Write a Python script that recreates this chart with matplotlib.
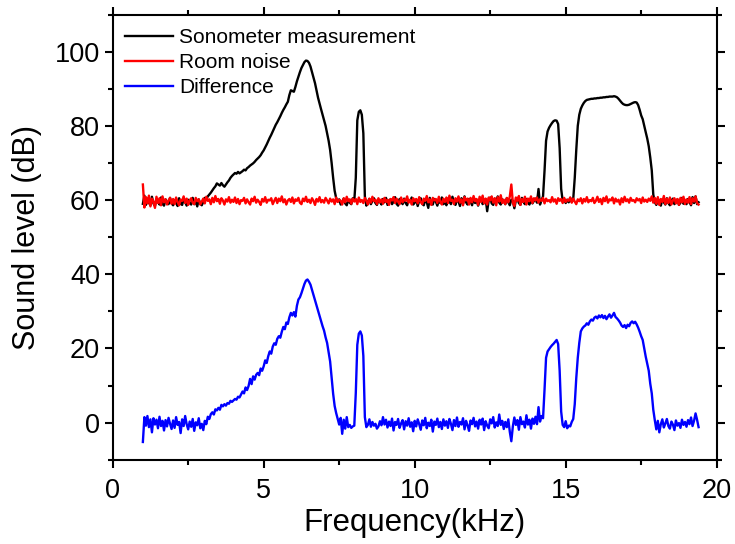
import numpy as np
import matplotlib
matplotlib.use("Agg")
import matplotlib.pyplot as plt
from matplotlib.ticker import MultipleLocator

plt.rcParams['font.family'] = ['Liberation Sans', 'DejaVu Sans']

# frequency grid (kHz), 0.05 kHz steps from 1.00 to 19.40
freq = np.round(np.arange(1.0, 19.4001, 0.05), 2)

# sonometer measurement (dB), one row per kHz
sonometer = [
    59.0, 61.2, 58.7, 60.4, 59.3, 58.6, 60.9, 59.1, 58.4, 60.3, 59.6, 58.8, 60.7, 59.0, 58.5, 60.2, 59.4, 58.9, 60.6, 59.1,
    58.6, 60.0, 59.3, 58.4, 60.5, 59.0, 58.7, 60.3, 59.5, 58.5, 60.1, 59.2, 58.8, 60.6, 58.9, 59.7, 58.3, 60.2, 59.0, 58.6,
    59.5, 60.6, 60.3, 61.0, 61.5, 62.0, 62.6, 63.2, 63.7, 64.5, 64.2, 63.9, 64.6, 64.0, 63.6, 64.2, 64.8, 65.3, 66.0, 66.5,
    66.9, 67.3, 67.1, 67.6, 67.2, 67.5, 67.8, 68.2, 68.0, 68.6, 68.9, 69.3, 69.6, 69.9, 70.3, 70.8, 71.2, 71.6, 72.1, 72.8,
    73.4, 74.2, 75.0, 75.9, 76.8, 77.6, 78.5, 79.4, 80.3, 81.0, 81.8, 82.6, 83.5, 84.3, 85.0, 85.8, 86.5, 88.3, 89.6, 89.4,
    89.2, 90.5, 92.0, 93.3, 94.5, 95.6, 96.4, 97.2, 97.6, 97.5, 97.0, 96.0, 94.5, 93.0, 91.5, 89.5, 87.6, 86.0, 84.5, 83.0,
    81.5, 80.0, 78.0, 76.0, 73.5, 70.0, 66.0, 62.5, 60.5, 59.6, 60.2, 58.8, 59.5, 60.4, 59.1, 58.6, 60.1, 59.3, 58.9, 60.5,
    59.8, 66.0, 81.5, 83.8, 84.2, 83.0, 78.0, 61.0, 58.5, 59.6, 60.3, 58.9, 59.8, 60.5, 59.2, 58.7, 60.1, 59.5, 58.8, 60.3,
    59.4, 60.6, 58.7, 59.9, 60.2, 58.9, 59.6, 60.8, 59.0, 58.5, 60.3, 59.7, 58.9, 60.4, 59.2, 58.6, 60.0, 59.5, 60.7, 58.8,
    59.3, 60.1, 58.4, 59.8, 60.5, 59.0, 58.6, 60.2, 59.4, 57.9, 60.6, 59.1, 58.8, 60.3, 59.6, 58.5, 60.0, 59.2, 60.7, 58.9,
    59.5, 58.6, 60.4, 59.8, 58.9, 60.9, 59.3, 58.7, 60.2, 59.6, 58.4, 60.5, 59.0, 61.0, 59.4, 58.8, 60.3, 59.7, 58.6, 60.6,
    59.2, 60.0, 58.5, 59.8, 60.6, 58.9, 59.5, 60.3, 57.0, 59.9, 60.7, 59.1, 58.7, 60.4, 59.6, 61.0, 59.3, 58.8, 60.2, 59.7,
    58.9, 60.5, 59.4, 58.6, 60.1, 59.8, 57.8, 59.9, 60.4, 59.2, 58.7, 60.6, 59.5, 58.9, 60.3, 59.6, 58.8, 60.5, 59.1, 59.8,
    60.4, 59.3, 63.0, 58.8, 60.0, 61.0, 68.0, 76.0, 78.5, 79.5, 80.2, 80.8, 81.3, 81.5, 81.4, 80.5, 74.0, 63.0, 59.8, 60.3,
    59.2, 60.1, 59.4, 60.6, 59.5, 60.3, 66.0, 73.5, 80.0, 83.0, 84.6, 85.5, 86.2, 86.7, 87.0, 87.1, 87.2, 87.3, 87.3, 87.4,
    87.4, 87.5, 87.5, 87.6, 87.6, 87.7, 87.7, 87.8, 87.8, 87.9, 87.9, 87.9, 88.0, 87.9, 87.7, 87.3, 86.8, 86.3, 85.9, 85.7,
    85.6, 85.6, 85.7, 85.9, 86.1, 86.3, 86.4, 86.3, 85.6, 84.3, 82.8, 81.8, 80.0, 78.3, 76.6, 74.5, 71.5, 68.0, 61.5, 59.5,
    58.7, 60.3, 59.0, 58.5, 60.1, 59.4, 58.8, 60.5, 59.2, 58.6, 59.9, 60.4, 58.9, 59.6, 60.2, 58.7, 59.3, 60.6, 59.0, 59.8,
    58.9, 60.3, 59.5, 58.6, 60.8, 59.2, 61.0, 58.9, 59.4,
]

# room noise (dB)
room_noise = [
    64.2, 58.0, 60.8, 59.1, 61.2, 58.3, 60.4, 59.6, 57.9, 60.9, 59.2, 60.5, 58.6, 61.0, 59.4, 60.2, 58.8, 59.9, 60.6, 59.0,
    60.3, 58.9, 60.7, 59.5, 58.6, 60.1, 59.8, 61.0, 59.2, 60.4, 58.7, 59.9, 60.5, 59.3, 58.9, 60.6, 59.7, 60.2, 58.8, 59.6,
    60.4, 59.1, 60.9, 59.8, 60.2, 58.9, 60.6, 59.4, 61.1, 59.7, 60.3, 59.0, 60.5, 59.9, 58.8, 60.2, 59.6, 60.8, 59.3, 60.1,
    59.5, 60.7, 59.2, 60.3, 58.9, 60.0, 59.8, 60.6, 59.1, 60.2, 59.4, 58.8, 60.4, 59.7, 60.9, 59.3, 60.1, 59.5, 58.7, 60.3,
    59.6, 60.8, 59.3, 60.1, 59.9, 60.5, 58.9, 59.8, 60.6, 59.2, 60.4, 59.7, 61.0, 59.4, 60.2, 58.8, 59.9, 60.3, 59.5, 60.7,
    59.1, 60.2, 59.8, 60.6, 59.3, 58.9, 60.4, 59.7, 60.9, 59.5, 60.1, 59.2, 60.5, 59.8, 58.7, 60.3, 59.6, 60.8, 59.4, 60.0,
    59.3, 60.6, 59.9, 59.1, 60.4, 59.6, 60.2, 58.9, 60.7, 59.5, 60.1, 59.8, 58.8, 60.5, 59.4, 60.9, 59.7, 60.2, 59.0, 60.4,
    59.6, 60.3, 58.9, 60.7, 59.5, 60.0, 59.2, 60.6, 59.8, 58.8, 60.4, 59.3, 60.9, 59.7, 60.1, 58.9, 60.5, 59.4, 60.2, 59.0,
    60.6, 59.5, 60.1, 58.7, 60.3, 59.9, 60.8, 59.2, 60.4, 59.6, 58.9, 60.7, 59.4, 60.2, 59.8, 61.0, 59.3, 60.1, 58.8, 60.5,
    59.7, 60.3, 59.1, 60.8, 59.5, 58.9, 60.4, 59.8, 61.1, 59.4, 60.2, 58.7, 60.6, 59.9, 60.3, 59.2, 60.9, 59.6, 58.8, 60.4,
    59.5, 60.7, 59.2, 61.2, 59.8, 60.1, 58.9, 60.5, 59.6, 61.0, 59.3, 60.2, 58.6, 60.8, 59.9, 60.4, 58.8, 60.6, 59.4, 61.1,
    59.7, 60.3, 58.7, 60.9, 59.5, 61.2, 59.1, 60.4, 58.8, 60.7, 59.9, 61.0, 59.3, 60.5, 58.6, 60.8, 59.6, 61.3, 59.2, 60.1,
    58.9, 60.6, 59.4, 61.0, 64.2, 59.3, 58.4, 60.7, 59.8, 61.1, 58.7, 60.3, 59.5, 60.9, 58.8, 60.4, 59.7, 61.0, 59.2, 60.5,
    59.9, 60.7, 59.3, 60.2, 59.8, 60.6, 59.1, 60.4, 59.7, 60.0, 59.4, 60.8, 59.6, 60.2, 59.0, 60.5, 59.8, 60.3, 59.2, 60.6,
    59.5, 60.1, 59.8, 60.7, 59.3, 60.4, 59.6, 58.9, 60.2, 59.7, 60.5, 59.1, 60.3, 59.6, 60.8, 59.4, 60.0, 59.7, 60.6, 59.2,
    59.8, 60.9, 59.5, 60.3, 58.9, 60.6, 59.7, 61.0, 59.3, 60.2, 59.9, 60.7, 59.1, 60.4, 59.6, 60.1, 58.8, 60.5, 59.4, 60.9,
    59.7, 60.2, 59.3, 60.6, 59.8, 60.0, 59.4, 60.5, 59.9, 60.3, 59.2, 60.7, 59.6, 60.1, 59.5, 60.4, 59.8, 61.0, 59.3, 60.6,
    59.0, 60.8, 58.7, 60.3, 59.5, 61.1, 58.9, 60.4, 59.2, 60.7, 58.8, 59.9, 60.5, 59.1, 60.3, 58.7, 60.6, 59.4, 60.9, 58.9,
    60.2, 59.3, 60.8, 58.9, 60.5, 59.6, 61.0, 59.2, 58.8,
]

# difference (dB)
difference = [
    -5.2, 1.5, -0.8, 1.8, -1.2, 0.9, -2.6, 1.2, -0.5, 0.8, -1.5, 1.6, -0.9, 0.5, -2.1, 0.7, -1.0, 1.3, -0.3, -1.7,
    0.6, -1.4, 1.5, -0.6, 0.2, -2.8, 0.9, -0.9, 1.8, -0.4, -1.8, 0.3, -1.1, 1.0, -2.2, 0.1, -0.7, 1.2, -1.5, -0.3,
    -2.0, 0.5, -0.4, 1.6, 1.0, 2.3, 2.8, 2.2, 3.6, 3.3, 4.0, 3.5, 4.8, 4.4, 5.0, 4.6, 5.3, 5.1, 5.9, 5.6,
    6.0, 6.4, 6.2, 7.0, 6.8, 7.6, 8.4, 7.9, 9.5, 8.8, 9.9, 11.8, 10.4, 12.5, 11.6, 12.9, 13.4, 12.8, 14.6, 14.0,
    15.2, 16.8, 16.1, 17.9, 19.2, 18.6, 20.5, 21.4, 21.0, 22.6, 23.3, 22.9, 24.5, 25.8, 25.2, 27.0, 26.6, 28.4, 29.6, 28.9,
    29.8, 28.6, 31.5, 33.2, 33.8, 34.9, 36.2, 37.4, 38.3, 38.6, 38.0, 37.2, 35.8, 34.5, 33.0, 31.6, 30.1, 28.9, 27.4, 26.0,
    24.8, 23.0, 21.5, 19.0, 16.5, 12.0, 7.8, 4.5, 2.6, 1.0, -0.5, 1.3, -3.0, 0.8, -1.6, 1.5, -1.2, -0.6, -1.4, -1.0,
    -0.8, 8.0, 21.0, 24.0, 24.6, 23.5, 18.0, 1.5, -1.2, -0.6, 0.9, -1.1, 0.2, -0.8, -0.3, -1.6, -1.0, 0.4, -0.7, 1.5,
    -0.5, 0.8, -1.3, 0.3, -0.9, 1.1, -2.1, 0.2, -0.6, 1.0, -1.4, -0.2, 0.7, -1.8, 0.4, -0.8, 1.2, -1.1, 0.1, -2.3,
    0.5, -1.0, 0.9, -0.4, -1.9, 0.6, -0.7, 1.3, -1.5, 0.0, -0.9, 0.8, -2.4, 0.3, -0.6, 1.1, -1.2, 0.2, -1.7, 0.9,
    -0.8, 0.4, -1.4, 1.0, -0.3, -2.0, 0.7, -0.9, 1.4, -1.1, 0.2, -0.5, 1.2, -1.8, 0.5, -0.7, -2.2, 0.6, -0.4, 1.3,
    -1.0, 0.3, -1.6, 0.8, -0.5, 1.1, -2.0, 0.4, -0.8, -1.5, 0.9, -0.2, 1.5, -1.3, 0.1, -0.9, 2.2, -0.6, 0.5, -1.7,
    0.2, -1.2, 0.9, -2.5, -5.0, -1.0, 1.4, -0.6, 0.7, -1.9, 1.5, -0.4, 0.3, -1.3, 2.0, -0.5, 0.8, -1.6, 1.1, -0.3,
    1.6, -0.4, 4.2, 0.3, 1.8, 1.2, 9.0, 17.5, 19.2, 19.8, 20.4, 20.9, 21.3, 21.8, 22.3, 21.2, 14.0, 3.0, -0.6, -1.2,
    0.4, -1.5, -0.8, -1.0, 0.2, 1.0, 5.0, 12.0, 17.5, 21.5, 24.6, 25.4, 25.9, 26.2, 26.8, 26.4, 27.3, 27.8, 27.5, 28.3,
    28.6, 28.1, 28.9, 28.4, 29.0, 28.2, 28.8, 27.9, 28.6, 29.2, 28.3, 28.9, 29.6, 28.5, 28.1, 27.6, 27.0, 26.2, 25.8, 26.3,
    25.5, 26.4, 26.0, 26.9, 27.3, 26.8, 27.2, 26.5, 25.6, 24.5, 23.3, 22.3, 20.0, 17.8, 15.9, 14.0, 10.5, 7.9, 3.5, 0.7,
    -1.8, 0.5, -2.6, -0.4, 0.9, -1.3, -0.2, 1.0, -0.9, -1.6, 0.3, -0.5, -2.0, 0.6, -0.8, -0.1, -1.4, 0.8, -0.6, 0.2,
    -1.1, 0.7, -0.4, 1.4, -0.9, 0.5, 2.5, 0.8, -1.2,
]

fig = plt.figure(figsize=(7.35, 5.44), dpi=100)
ax = fig.add_axes([0.1533, 0.1548, 0.8218, 0.8184])

ax.plot(freq, sonometer, color='black', lw=1.7, label='Sonometer measurement')
ax.plot(freq, room_noise, color='red', lw=1.7, label='Room noise')
ax.plot(freq, difference, color='blue', lw=1.7, label='Difference')

ax.set_xlim(0, 20)
ax.set_ylim(-10, 110)
ax.xaxis.set_major_locator(MultipleLocator(5))
ax.xaxis.set_minor_locator(MultipleLocator(2.5))
ax.yaxis.set_major_locator(MultipleLocator(20))
ax.yaxis.set_minor_locator(MultipleLocator(10))
ax.set_yticks([0, 20, 40, 60, 80, 100])

for s in ax.spines.values():
    s.set_linewidth(1.5)
ax.tick_params(which='both', direction='out', top=True, right=True, width=1.5)
ax.tick_params(which='major', length=6, labelsize=19.5)
ax.tick_params(axis='x', which='major', pad=7)
ax.tick_params(axis='y', which='major', pad=3)
ax.tick_params(which='minor', length=3.5)

ax.set_xlabel('Frequency(kHz)', fontsize=22.5, labelpad=3)
ax.set_ylabel('Sound level (dB)', fontsize=22, labelpad=9)

ax.legend(loc='upper left', bbox_to_anchor=(0.02, 0.97), frameon=False,
          fontsize=15, handlelength=2.3, handletextpad=0.3, labelspacing=0.3,
          borderpad=0, borderaxespad=0)

fig.savefig('out.png', dpi=100)
